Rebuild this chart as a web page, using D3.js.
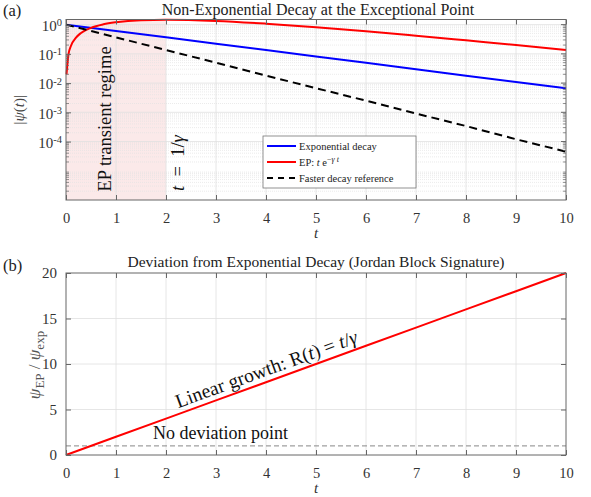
<!DOCTYPE html>
<html>
<head>
<meta charset="utf-8">
<script src="https://cdn.jsdelivr.net/npm/d3@7"></script>
<style>
  body { margin: 0; background: #fff; }
  svg, svg text, svg tspan { font-family: "Liberation Serif", "Times New Roman", serif !important; }
  .grid line { stroke: #e0e0e0; stroke-width: 0.8; }
  .minor line { stroke: #e2e2e2; stroke-width: 0.7; stroke-dasharray: 1,1; }
  .tick text { fill: #333; }
</style>
</head>
<body>
<script>
var width = 591,
    height = 497;

// panel (a) data
var tExp = [0, 1, 2, 3, 4, 5, 6, 7, 8, 9, 10];
var expDecay = [1, 0.607, 0.368, 0.223, 0.135, 0.082, 0.050, 0.030, 0.018, 0.011, 0.0067];
var fastDecay = [1, 0.368, 0.135, 0.050, 0.018, 0.0067, 0.0025, 0.00091, 0.00034, 0.00012, 0.000045];
var tEP = [0.01, 0.05, 0.1, 0.2, 0.3, 0.5, 0.75, 1, 1.5, 2, 3, 4, 5, 6, 7, 8, 9, 10];
var epDecay = [0.02, 0.097, 0.19, 0.36, 0.52, 0.78, 1.03, 1.21, 1.42, 1.47, 1.34, 1.08, 0.82, 0.60, 0.42, 0.29, 0.20, 0.135];
var yTicksA = [-4, -3, -2, -1, 0];
var xTicks = [0, 1, 2, 3, 4, 5, 6, 7, 8, 9, 10];

// panel (b) data
var tRatio = [0, 1, 2, 3, 4, 5, 6, 7, 8, 9, 10];
var ratio = [0, 2, 4, 6, 8, 10, 12, 14, 16, 18, 20];
var yTicksB = [0, 5, 10, 15, 20];

var left = 66, right = 566;
var serif = '"Liberation Serif", "Times New Roman", serif';

var svg = d3.select("body").append("svg")
  .attr("width", width)
  .attr("height", height);

var x = d3.scaleLinear().domain([0, 10]).range([left, right]);

function styleAxis(g, size) {
  g.attr("font-family", serif).attr("font-size", size);
  g.select(".domain").remove();
  g.selectAll("line").attr("stroke", "#666");
  g.selectAll("text").style("font-family", serif);
}

// ---------- panel (a) ----------
var topA = 19.5, botA = 200;
var yA = d3.scaleLog().domain([1e-6, 1.5]).range([botA, topA]);

var gA = svg.append("g");

// shaded transient region
gA.append("rect")
  .attr("x", x(0)).attr("y", topA)
  .attr("width", x(2) - x(0)).attr("height", botA - topA)
  .attr("fill", "#fbe9e9");

// minor horizontal grid
var minorVals = [];
for (var e = -6; e < 1; e++) {
  for (var m = 2; m < 10; m++) {
    var v = m * Math.pow(10, e);
    if (v < 1.5) minorVals.push(v);
  }
}
gA.append("g").attr("class", "minor")
  .selectAll("line").data(minorVals).enter().append("line")
    .attr("x1", left).attr("x2", right)
    .attr("y1", function(d) { return yA(d); })
    .attr("y2", function(d) { return yA(d); });

gA.append("g").attr("class", "grid")
  .selectAll("line").data(yTicksA).enter().append("line")
    .attr("x1", left).attr("x2", right)
    .attr("y1", function(d) { return yA(Math.pow(10, d)); })
    .attr("y2", function(d) { return yA(Math.pow(10, d)); });

gA.append("g").attr("class", "grid")
  .selectAll("line").data(xTicks.slice(1, -1)).enter().append("line")
    .attr("x1", function(d) { return x(d); }).attr("x2", function(d) { return x(d); })
    .attr("y1", topA).attr("y2", botA);

var lineA = d3.line()
  .x(function(d) { return x(d[0]); })
  .y(function(d) { return yA(d[1]); });

gA.append("path")
  .datum(d3.zip(tExp, expDecay))
  .attr("fill", "none").attr("stroke", "#0000ff").attr("stroke-width", 2)
  .attr("d", lineA);

gA.append("path")
  .datum(d3.zip(tEP, epDecay))
  .attr("fill", "none").attr("stroke", "#ff0000").attr("stroke-width", 2)
  .attr("d", lineA.curve(d3.curveMonotoneX));

lineA.curve(d3.curveLinear);
gA.append("path")
  .datum(d3.zip(tExp, fastDecay))
  .attr("fill", "none").attr("stroke", "#000").attr("stroke-width", 2)
  .attr("stroke-dasharray", "8,5")
  .attr("d", lineA);

function frame(g, y0, y1) {
  g.append("rect")
    .attr("x", left).attr("y", y0)
    .attr("width", right - left).attr("height", y1 - y0)
    .attr("fill", "none").attr("stroke", "#666").attr("stroke-width", 1);
}
frame(gA, topA, botA);

var xAxisA = gA.append("g")
  .attr("transform", "translate(0," + botA + ")")
  .call(d3.axisBottom(x).tickValues(xTicks).tickSize(-5).tickPadding(13).tickFormat(d3.format("d")));
styleAxis(xAxisA, 14.5);

var xTopA = gA.append("g")
  .attr("transform", "translate(0," + topA + ")")
  .call(d3.axisTop(x).tickValues(xTicks).tickSize(-5).tickFormat(""));
styleAxis(xTopA, 14.5);

var yAxisA = gA.append("g")
  .attr("transform", "translate(" + left + ",0)")
  .call(d3.axisLeft(yA).tickValues(yTicksA.map(function(d) { return Math.pow(10, d); })).tickSize(-5).tickFormat(""));
styleAxis(yAxisA, 15);
yAxisA.selectAll(".tick text").remove();
yAxisA.selectAll(".tick").append("text")
  .attr("x", -4).attr("dy", "0.38em")
  .attr("text-anchor", "end").attr("fill", "#333")
  .style("font-family", serif)
  .each(function(d) {
    var t = d3.select(this);
    t.append("tspan").text("10");
    t.append("tspan").attr("dy", "-0.45em").attr("font-size", 10.5)
      .text(String(Math.round(Math.log10(d))));
  });

// minor ticks on left and right, major ticks on right
[left, right].forEach(function(px) {
  var dir = px === left ? 1 : -1;
  gA.append("g").selectAll("line").data(minorVals).enter().append("line")
    .attr("x1", px).attr("x2", px + dir * 3)
    .attr("y1", function(d) { return yA(d); })
    .attr("y2", function(d) { return yA(d); })
    .attr("stroke", "#666").attr("stroke-width", 0.7);
});
gA.append("g").selectAll("line").data(yTicksA).enter().append("line")
  .attr("x1", right).attr("x2", right - 5)
  .attr("y1", function(d) { return yA(Math.pow(10, d)); })
  .attr("y2", function(d) { return yA(Math.pow(10, d)); })
  .attr("stroke", "#666");

gA.append("text")
  .attr("x", x(5)).attr("y", 238)
  .attr("text-anchor", "middle").attr("font-size", 15).attr("font-style", "italic").attr("fill", "#333")
  .text("t");

gA.append("text")
  .attr("transform", "translate(24," + ((topA + botA) / 2) + ") rotate(-90)")
  .attr("text-anchor", "middle").attr("font-size", 15).attr("fill", "#444")
  .html('|<tspan font-style="italic">ψ</tspan>(<tspan font-style="italic">t</tspan>)|');

svg.append("text")
  .attr("x", 318).attr("y", 15)
  .attr("text-anchor", "middle").attr("font-size", 16).attr("fill", "#222")
  .text("Non-Exponential Decay at the Exceptional Point");
svg.append("text")
  .attr("x", 3).attr("y", 16).attr("font-size", 16.5).attr("fill", "#222")
  .text("(a)");

// annotations
gA.append("text")
  .attr("transform", "translate(111,119) rotate(-90)")
  .attr("text-anchor", "middle").attr("font-size", 18.5).attr("fill", "#111")
  .text("EP transient regime");

gA.append("text")
  .attr("transform", "translate(" + (x(2) + 18) + ",163) rotate(-90)")
  .attr("text-anchor", "middle").attr("font-size", 18.5).attr("fill", "#111")
  .html('<tspan font-style="italic">t</tspan>\u2002=\u20021/<tspan font-style="italic">γ</tspan>');

// legend
var lg = gA.append("g").attr("transform", "translate(263,136)");
lg.append("rect").attr("width", 153).attr("height", 52)
  .attr("fill", "#fff").attr("stroke", "#777").attr("stroke-width", 0.8);
var legItems = [
  { color: "#0000ff", dash: null, label: "Exponential decay" },
  { color: "#ff0000", dash: null, label: "EP" },
  { color: "#000", dash: "6,5", label: "Faster decay reference" }
];
legItems.forEach(function(d, i) {
  var yy = 10 + i * 16;
  lg.append("line").attr("x1", 4).attr("x2", 33).attr("y1", yy).attr("y2", yy)
    .attr("stroke", d.color).attr("stroke-width", 2)
    .attr("stroke-dasharray", d.dash);
  var tx = lg.append("text").attr("x", 36).attr("y", yy + 4).attr("font-size", 10.5).attr("fill", "#222");
  if (d.label === "EP") {
    tx.html('EP: <tspan font-style="italic">t</tspan> e<tspan dy="-4" font-size="8">−<tspan font-style="italic">γ t</tspan></tspan>');
  } else {
    tx.text(d.label);
  }
});

// ---------- panel (b) ----------
var topB = 273, botB = 455;
var yB = d3.scaleLinear().domain([0, 20]).range([botB, topB]);
var gB = svg.append("g");

gB.append("g").attr("class", "grid")
  .selectAll("line").data(yTicksB.slice(1, -1)).enter().append("line")
    .attr("x1", left).attr("x2", right)
    .attr("y1", function(d) { return yB(d); }).attr("y2", function(d) { return yB(d); });
gB.append("g").attr("class", "grid")
  .selectAll("line").data(xTicks.slice(1, -1)).enter().append("line")
    .attr("x1", function(d) { return x(d); }).attr("x2", function(d) { return x(d); })
    .attr("y1", topB).attr("y2", botB);

gB.append("line")
  .attr("x1", left).attr("x2", right)
  .attr("y1", yB(1)).attr("y2", yB(1))
  .attr("stroke", "#888").attr("stroke-width", 1).attr("stroke-dasharray", "5,3");

gB.append("path")
  .datum(d3.zip(tRatio, ratio))
  .attr("fill", "none").attr("stroke", "#ff0000").attr("stroke-width", 2)
  .attr("d", d3.line().x(function(d) { return x(d[0]); }).y(function(d) { return yB(d[1]); }));

frame(gB, topB, botB);

var xAxisB = gB.append("g")
  .attr("transform", "translate(0," + botB + ")")
  .call(d3.axisBottom(x).tickValues(xTicks).tickSize(-5).tickPadding(13).tickFormat(d3.format("d")));
styleAxis(xAxisB, 14.5);

var xTopB = gB.append("g")
  .attr("transform", "translate(0," + topB + ")")
  .call(d3.axisTop(x).tickValues(xTicks).tickSize(-5).tickFormat(""));
styleAxis(xTopB, 14.5);

var yAxisB = gB.append("g")
  .attr("transform", "translate(" + left + ",0)")
  .call(d3.axisLeft(yB).tickValues(yTicksB).tickSize(-5).tickPadding(9));
styleAxis(yAxisB, 15);

var yRightB = gB.append("g")
  .attr("transform", "translate(" + right + ",0)")
  .call(d3.axisRight(yB).tickValues(yTicksB).tickSize(-5).tickFormat(""));
styleAxis(yRightB, 15);

gB.append("text")
  .attr("x", x(5)).attr("y", 493)
  .attr("text-anchor", "middle").attr("font-size", 15).attr("font-style", "italic").attr("fill", "#333")
  .text("t");

gB.append("text")
  .attr("transform", "translate(40,365) rotate(-90)")
  .attr("text-anchor", "middle").attr("font-size", 17).attr("fill", "#555")
  .html('<tspan font-style="italic">ψ</tspan><tspan dy="4" font-size="13">EP</tspan><tspan dy="-4"> / </tspan><tspan font-style="italic">ψ</tspan><tspan dy="4" font-size="13">exp</tspan>');

svg.append("text")
  .attr("x", 316).attr("y", 267)
  .attr("text-anchor", "middle").attr("font-size", 15.5).attr("fill", "#222")
  .text("Deviation from Exponential Decay (Jordan Block Signature)");
svg.append("text")
  .attr("x", 3).attr("y", 271).attr("font-size", 16.5).attr("fill", "#222")
  .text("(b)");

var ang = Math.atan2(yB(0) - yB(20), x(10) - x(0)) * 180 / Math.PI;
gB.append("text")
  .attr("transform", "translate(" + x(4.05) + "," + (yB(8.1) - 6) + ") rotate(" + (-ang) + ")")
  .attr("text-anchor", "middle").attr("font-size", 19.5).attr("fill", "#111")
  .html('Linear growth: R(<tspan font-style="italic">t</tspan>) = <tspan font-style="italic">t</tspan>/<tspan font-style="italic">γ</tspan>');

gB.append("text")
  .attr("x", 153).attr("y", yB(1) - 7)
  .attr("font-size", 18).attr("fill", "#111")
  .text("No deviation point");
</script>
</body>
</html>
